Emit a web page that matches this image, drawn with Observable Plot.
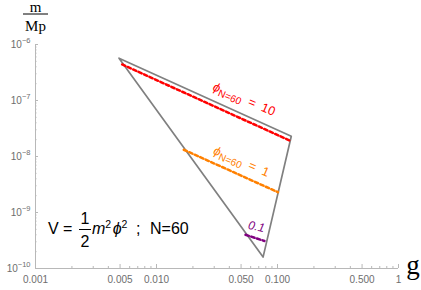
<!DOCTYPE html>
<html><head><meta charset="utf-8">
<script src="https://cdn.jsdelivr.net/npm/d3@7"></script>
<script src="https://cdn.jsdelivr.net/npm/@observablehq/plot@0.6"></script>
<style>body{margin:0;background:#fff} #chart{width:421px;height:290px}</style>
</head><body><div id="chart"></div>
<script>
// Data
const triangleG = [0.0049, 0.13, 0.076, 0.0049];
const triangleM = [5.7e-7, 2.3e-8, 1.6e-10, 5.7e-7];
const phi10G = [0.0052, 0.13];
const phi10M = [4.4e-7, 1.87e-8];
const phi1G = [0.0168, 0.101];
const phi1M = [1.32e-8, 2.3e-9];
const phi01G = [0.0544, 0.078];
const phi01M = [4.0e-10, 3.1e-10];
const labelTexts = ["ϕN=60 = 10", "ϕN=60 = 1", "0.1"];
const labelG = [0.053, 0.0503, 0.067];
const labelM = [1.05e-7, 8.1e-9, 5.6e-10];
const xMajor = [0.001, 0.005, 0.01, 0.05, 0.1, 0.5, 1];
const xLabels = ["0.001", "0.005", "0.010", "0.050", "0.100", "0.500", "1"];
const xMinor = [0.002,0.003,0.004,0.006,0.007,0.008,0.009,0.02,0.03,0.04,0.06,0.07,0.08,0.09,0.2,0.3,0.4,0.6,0.7,0.8,0.9];
const yMajor = [1e-10, 1e-9, 1e-8, 1e-7, 1e-6];
const yExp = ["−10", "−9", "−8", "−7", "−6"];
const yMinor = [];
for (const d of [1e-10, 1e-9, 1e-8, 1e-7]) for (const k of [2,3,4,5,6,7,8,9]) yMinor.push(d * k);

const pts = (G, M) => G.map((g, i) => ({g, m: M[i]}));
const axisGray = "#b8b8b8";
const labGray = "#6e6e6e";

const chart = Plot.plot({
  width: 421, height: 290,
  marginLeft: 35, marginRight: 23, marginTop: 44, marginBottom: 22,
  x: {type: "log", domain: [0.001, 1]},
  y: {type: "log", domain: [1e-10, 1e-6]},
  style: {fontFamily: "Liberation Sans, Arial, sans-serif", background: "white", overflow: "visible"},
  marks: [
    Plot.ruleY([1e-10], {stroke: axisGray}),
    Plot.ruleX([0.001], {stroke: axisGray}),
    Plot.axisX(xMinor, {tickSize: 2, dy: -2, fill: null, stroke: axisGray, label: null}),
    Plot.axisX(xMajor, {tickSize: 4, dy: -4, fill: null, stroke: axisGray, label: null}),
    Plot.text(xMajor, {x: d => d, y: () => 1e-10, text: (d, i) => xLabels[i], dy: 11, fill: labGray, fontSize: 10}),
    Plot.axisY(yMinor, {tickSize: 1.5, dx: 1.5, fill: null, stroke: axisGray, label: null}),
    Plot.axisY(yMajor, {tickSize: 3, dx: 3, fill: null, stroke: axisGray, label: null}),
    Plot.text(yMajor, {x: () => 0.001, y: d => d, text: (d, i) => "10" + yExp[i], textAnchor: "end", dx: -5, fill: labGray, fontSize: 10}),
    Plot.line(pts(triangleG, triangleM), {x: "g", y: "m", stroke: "#808080", strokeWidth: 1.7}),
    Plot.line(pts(phi10G, phi10M), {x: "g", y: "m", stroke: "#ff0000", strokeWidth: 2.5, strokeDasharray: "3.5,2.5"}),
    Plot.line(pts(phi1G, phi1M), {x: "g", y: "m", stroke: "#ff8000", strokeWidth: 2.5, strokeDasharray: "3.5,2.5"}),
    Plot.line(pts(phi01G, phi01M), {x: "g", y: "m", stroke: "#800080", strokeWidth: 2.5, strokeDasharray: "3.5,2.5"}),
    Plot.text([0], {x: () => labelG[0], y: () => labelM[0], text: () => labelTexts[0], fill: "#ff0000", fontSize: 12.5, rotate: 23}),
    Plot.text([1], {x: () => labelG[1], y: () => labelM[1], text: () => labelTexts[1], fill: "#ff8000", fontSize: 12.5, rotate: 23}),
    Plot.text([2], {x: () => labelG[2], y: () => labelM[2], text: () => labelTexts[2], fill: "#800080", fontSize: 12, fontStyle: "italic", rotate: 12})
  ]
});
document.getElementById("chart").appendChild(chart);

// rich-text post-processing (superscripts / subscripts)
d3.select(chart).selectAll("text").each(function() {
  const s = this.textContent;
  if (this.childElementCount) return;
  const sel = d3.select(this);
  const m = /^10([−-]\d+)$/.exec(s);
  if (m) {
    sel.text(null);
    sel.append("tspan").text("10");
    sel.append("tspan").attr("dy", -5).attr("font-size", 7.5).text(m[1]);
  } else if (s.startsWith("ϕN=60")) {
    const rest = s.slice(5);
    sel.text(null);
    sel.append("tspan").attr("font-style", "italic").text("ϕ");
    sel.append("tspan").attr("dy", 3).attr("font-size", 10).text("N=60");
    sel.append("tspan").attr("dy", -3).text(rest.replace(" = ", "  =  "));
  }
});

const svg = d3.select(chart);
const ann = svg.append("g").attr("fill", "#000").attr("text-anchor", "start");
// y-axis label m / Mp
ann.append("text").attr("x", 35.5).attr("y", 12).attr("text-anchor", "middle")
  .attr("font-family", "Liberation Serif, serif").attr("font-size", 15).text("m");
ann.append("line").attr("x1", 23).attr("x2", 48).attr("y1", 14).attr("y2", 14).attr("stroke", "#000").attr("stroke-width", 1);
ann.append("text").attr("x", 35.5).attr("y", 31).attr("text-anchor", "middle")
  .attr("font-family", "Liberation Serif, serif").attr("font-size", 15).text("Mp");
// x-axis label g
ann.append("text").attr("x", 413).attr("y", 274).attr("text-anchor", "middle")
  .attr("font-family", "Liberation Serif, serif").attr("font-size", 27).text("g");
// equation
const eq = ann.append("g").attr("font-family", "Liberation Sans, Arial, sans-serif").attr("font-size", 16).attr("text-anchor", "start");
eq.append("text").attr("x", 48).attr("y", 234).text("V =");
eq.append("text").attr("x", 85).attr("y", 224).attr("text-anchor", "middle").text("1");
eq.append("line").attr("x1", 79).attr("x2", 91).attr("y1", 229.5).attr("y2", 229.5).attr("stroke", "#000");
eq.append("text").attr("x", 85).attr("y", 247).attr("text-anchor", "middle").text("2");
const t = eq.append("text").attr("x", 92).attr("y", 234);
t.append("tspan").attr("font-style", "italic").text("m");
t.append("tspan").attr("font-size", 10.5).attr("dy", -6).text("2");
t.append("tspan").attr("font-style", "italic").attr("dy", 6).attr("dx", 1.5).text("ϕ");
t.append("tspan").attr("font-size", 10.5).attr("dy", -6).text("2");
eq.append("text").attr("x", 136).attr("y", 234).text(";");
eq.append("text").attr("x", 150).attr("y", 234).text("N=60");
</script>
</body></html>
